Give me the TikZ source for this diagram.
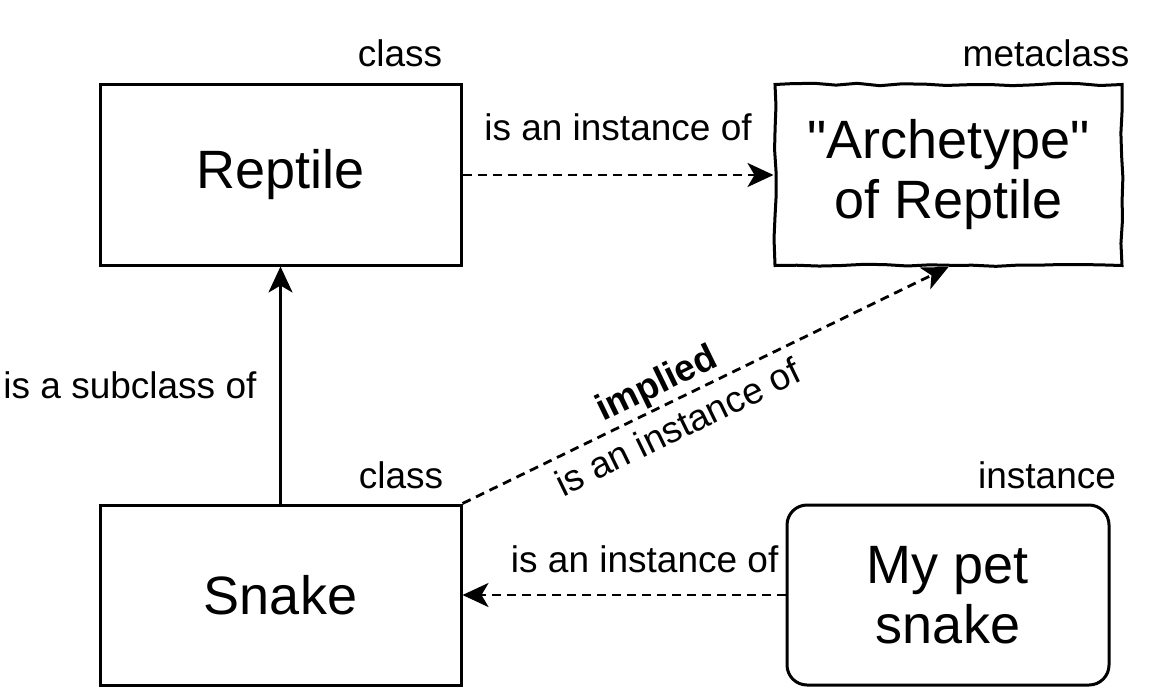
\documentclass[tikz,border=0pt]{standalone}
\usepackage{fontspec}
\setmainfont{Liberation Sans}
\usetikzlibrary{positioning, arrows.meta, decorations.pathmorphing}
\definecolor{LineColor}{RGB}{0,0,0}
\tikzset{
  classbox/.style={draw=LineColor, line width=1.5pt, minimum width=180.5pt, minimum height=90pt, align=center, font=\fontsize{27}{30}\selectfont},
  metabox/.style={classbox, minimum width=173.5pt, minimum height=90.5pt, decorate, decoration={random steps, segment length=11pt, amplitude=0.6pt}},
  instbox/.style={classbox, rounded corners=10pt, minimum width=161pt},
  kind/.style={anchor=base, font=\fontsize{18.5}{22}\selectfont},
  rel/.style={align=center, font=\fontsize{18.5}{25}\selectfont},
  instanceof/.style={LineColor, line width=1.4pt, dash pattern=on 4.5pt off 3pt, -{Stealth[length=13pt, width=12pt, inset=3.5pt]}},
  subclassof/.style={LineColor, line width=1.4pt, -{Stealth[length=13pt, width=12pt, inset=3.5pt]}}
}

\begin{document}
\begin{tikzpicture}[x=0.5pt, y=-0.5pt]
  \useasboundingbox (0,0) rectangle (1149,690);
  \pgfmathsetseed{7}

  % Boxes
  \node[classbox] (reptile) at (280.5,175) {Reptile};
  \node[classbox] (snake) at (280.5,595) {Snake};
  \node[metabox] (archetype) at (948.5,175) {\textquotedbl Archetype\textquotedbl\\of Reptile};
  \node[instbox] (pet) at (948,595) {My pet\\snake};

  % Kind labels
  \node[kind] (reptilekind) at (400,67) {class};
  \node[kind] (archetypekind) at (1046,67) {metaclass};
  \node[kind] (snakekind) at (401,488) {class};
  \node[kind] (petkind) at (1047,488) {instance};

  % Relations
  \draw[instanceof] (reptile) -- node[rel, above=13pt] {is an instance of} (archetype);
  \draw[subclassof] (snake) -- node[rel, left=8pt] {is a subclass of} (reptile);
  \draw[instanceof] (pet) -- node[rel, above=7pt, pos=0.436] {is an instance of} (snake);
  \draw[instanceof] (snake.north east) -- node[rel, sloped, pos=0.42] {\textbf{implied}\\is an instance of} (archetype.south);
\end{tikzpicture}
\end{document}
